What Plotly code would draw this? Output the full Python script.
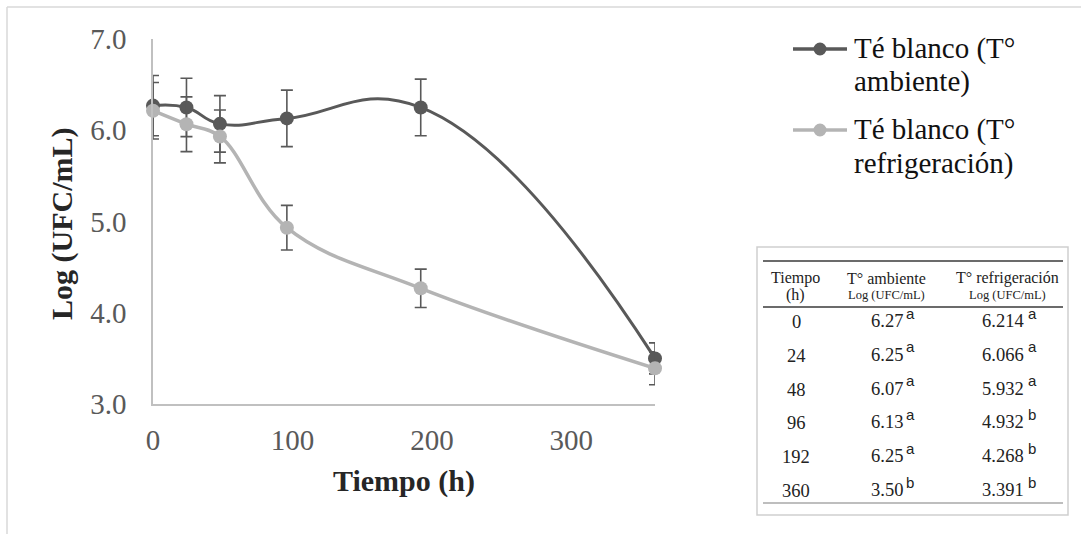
import plotly.graph_objects as go

# ---------------- data ----------------
tiempo = [0, 24, 48, 96, 192, 360]
ambiente = [6.27, 6.25, 6.07, 6.13, 6.25, 3.50]
refrig = [6.214, 6.066, 5.932, 4.932, 4.268, 3.391]
err_amb = [0.33, 0.32, 0.31, 0.31, 0.31, 0.17]
err_ref = [0.31, 0.30, 0.29, 0.245, 0.21, 0.18]
sig_amb = ["a", "a", "a", "a", "a", "b"]
sig_ref = ["a", "a", "a", "b", "b", "b"]
series_names = ["Té blanco (T°<br>ambiente)", "Té blanco (T°<br>refrigeración)"]
x_ticks = [0, 100, 200, 300]
y_ticks = [3.0, 4.0, 5.0, 6.0, 7.0]

# ---------------- layout geometry (pixels) ----------------
W, H = 1081, 534
L, R, T, B = 153, 655, 39, 404  # plot area
FONT = "Liberation Serif, Times New Roman, serif"
SANS = "Liberation Sans, Arial, sans-serif"
DARK = "#595959"
LIGHT = "#b4b4b4"


def px(x):
    return (x - L) / (R - L)


def py(y):
    return (B - y) / (B - T)


fig = go.Figure()

fig.add_trace(go.Scatter(
    x=tiempo, y=ambiente, mode="lines+markers", name=series_names[0],
    line=dict(color=DARK, width=3, shape="spline", smoothing=1.3),
    marker=dict(color=DARK, size=14),
    error_y=dict(type="data", array=err_amb, visible=True, color=DARK,
                 thickness=1.6, width=6),
    cliponaxis=False, showlegend=False,
))
fig.add_trace(go.Scatter(
    x=tiempo, y=refrig, mode="lines+markers", name=series_names[1],
    line=dict(color=LIGHT, width=3.5, shape="spline", smoothing=1.1),
    marker=dict(color=LIGHT, size=14),
    error_y=dict(type="data", array=err_ref, visible=True, color=DARK,
                 thickness=1.6, width=6),
    cliponaxis=False, showlegend=False,
))

shapes = []
annotations = []

# outer light frame
shapes.append(dict(type="line", xref="paper", yref="paper",
                   x0=px(7), x1=px(W + 5), y0=py(7), y1=py(7),
                   line=dict(color="#d9d9d9", width=1.5)))
shapes.append(dict(type="line", xref="paper", yref="paper",
                   x0=px(7), x1=px(7), y0=py(7), y1=py(H + 5),
                   line=dict(color="#d9d9d9", width=1.5)))

# axis titles
annotations.append(dict(text="<b>Tiempo (h)</b>", xref="paper", yref="paper",
                        x=px(404), y=py(481), xanchor="center", yanchor="middle",
                        showarrow=False, font=dict(family=FONT, size=30, color="#262626")))
annotations.append(dict(text="<b>Log (UFC/mL)</b>", xref="paper", yref="paper",
                        x=px(62), y=py(224), xanchor="center", yanchor="middle",
                        textangle=-90, showarrow=False,
                        font=dict(family=FONT, size=30, color="#262626")))

# manual legend
leg_items = [(series_names[0], DARK, 49), (series_names[1], LIGHT, 130)]
for name, col, yy in leg_items:
    shapes.append(dict(type="line", xref="paper", yref="paper",
                       x0=px(793), x1=px(847), y0=py(yy), y1=py(yy),
                       line=dict(color=col, width=3.5)))
    shapes.append(dict(type="circle", xref="paper", yref="paper",
                       x0=px(820 - 6.5), x1=px(820 + 6.5), y0=py(yy - 6.5), y1=py(yy + 6.5),
                       fillcolor=col, line=dict(color=col, width=0)))
    lines = name.split("<br>")
    for i, t in enumerate(lines):
        annotations.append(dict(text=t, xref="paper", yref="paper",
                                x=px(852), y=py(yy - 1 + 34 * i), xanchor="left", yanchor="middle",
                                showarrow=False, font=dict(family=FONT, size=29, color="#111111")))

# table inset
shapes.append(dict(type="rect", xref="paper", yref="paper",
                   x0=px(757), x1=px(1068), y0=py(247), y1=py(515),
                   fillcolor="white", line=dict(color="#cfcfcf", width=1.5), layer="below"))
for yy, col in [(261, "#3a3a3a"), (307, "#3a3a3a"), (503, "#a8a8a8")]:
    shapes.append(dict(type="line", xref="paper", yref="paper",
                       x0=px(763), x1=px(1063), y0=py(yy), y1=py(yy),
                       line=dict(color=col, width=1.6)))

TXT = "#222222"
hdr = [
    ("Tiempo", 795, 278, 16), ("(h)", 795, 295, 16),
    ("T° ambiente", 886, 278, 16), ("Log (UFC/mL)", 886, 295, 12.5),
    ("T° refrigeración", 1007, 278, 16), ("Log (UFC/mL)", 1007, 295, 12.5),
]
for t, xx, yy, fs in hdr:
    annotations.append(dict(text=t, xref="paper", yref="paper", x=px(xx), y=py(yy),
                            xanchor="center", yanchor="middle", showarrow=False,
                            font=dict(family=FONT, size=fs, color=TXT)))

row_y0, row_dy = 322, 33.8
for i, tt in enumerate(tiempo):
    yy = row_y0 + row_dy * i
    annotations.append(dict(text=str(tt), xref="paper", yref="paper", x=px(796), y=py(yy),
                            xanchor="center", yanchor="middle", showarrow=False,
                            font=dict(family=FONT, size=18.5, color=TXT)))
    annotations.append(dict(text=f"{ambiente[i]:.2f}",
                            xref="paper", yref="paper", x=px(905), y=py(yy - 1),
                            xanchor="right", yanchor="middle", showarrow=False,
                            font=dict(family=FONT, size=18.5, color=TXT)))
    annotations.append(dict(text=sig_amb[i],
                            xref="paper", yref="paper", x=px(904), y=py(yy - 9),
                            xanchor="left", yanchor="middle", showarrow=False,
                            font=dict(family=SANS, size=15, color=TXT)))
    annotations.append(dict(text=f"{refrig[i]:.3f}",
                            xref="paper", yref="paper", x=px(1026), y=py(yy - 1),
                            xanchor="right", yanchor="middle", showarrow=False,
                            font=dict(family=FONT, size=18.5, color=TXT)))
    annotations.append(dict(text=sig_ref[i],
                            xref="paper", yref="paper", x=px(1026), y=py(yy - 9),
                            xanchor="left", yanchor="middle", showarrow=False,
                            font=dict(family=SANS, size=15, color=TXT)))

fig.update_layout(
    width=W, height=H,
    margin=dict(l=L, r=W - R, t=T, b=H - B, pad=0),
    paper_bgcolor="white", plot_bgcolor="white",
    showlegend=False,
    shapes=shapes, annotations=annotations,
    xaxis=dict(range=[0, 360], tickvals=x_ticks, showgrid=False, zeroline=False,
               showline=True, linecolor="#c0c0c0", linewidth=1.5, ticks="",
               ticklabelstandoff=9,
               tickfont=dict(family=FONT, size=29, color=DARK)),
    yaxis=dict(range=[3, 7], tickvals=y_ticks, tickformat=".1f", showgrid=False,
               zeroline=False, showline=True, linecolor="#c0c0c0", linewidth=1.5,
               ticks="", ticklabelstandoff=19,
               tickfont=dict(family=FONT, size=29, color=DARK)),
)

fig.write_html("out.html")
